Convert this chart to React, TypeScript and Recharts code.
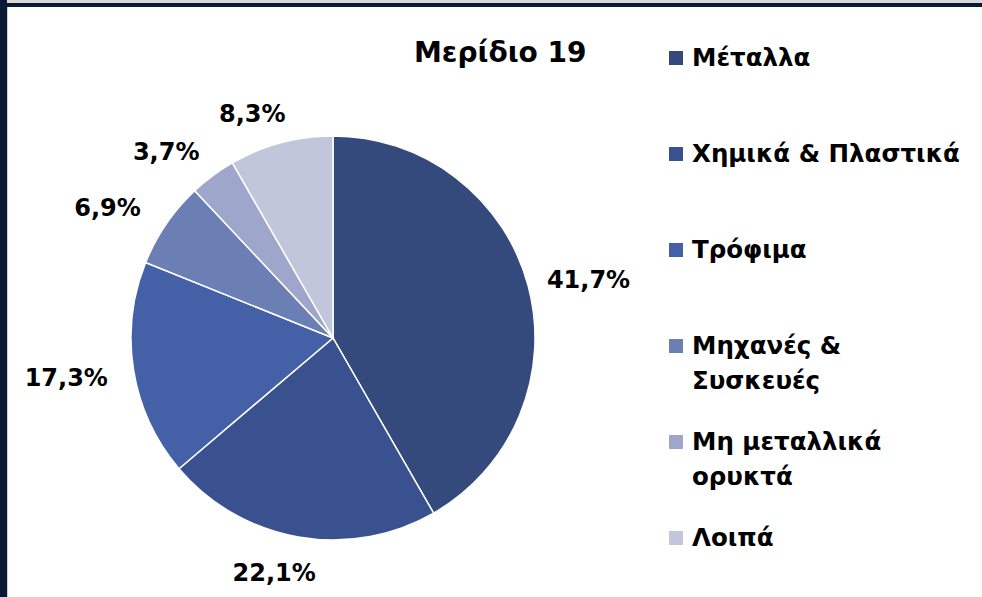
import { PieChart, Pie, Cell, Legend } from "recharts";

const categories = ["Μέταλλα", "Χημικά & Πλαστικά", "Τρόφιμα", "Μηχανές & Συσκευές", "Μη μεταλλικά ορυκτά", "Λοιπά"];
const legendLines = [["Μέταλλα"], ["Χημικά & Πλαστικά"], ["Τρόφιμα"], ["Μηχανές &", "Συσκευές"], ["Μη μεταλλικά", "ορυκτά"], ["Λοιπά"]];
const shares = [41.7, 22.1, 17.3, 6.9, 3.7, 8.3];
const colors = ["#34497c", "#3a5190", "#4460a6", "#6b7fb5", "#9ea7cb", "#c1c6db"];

const data = categories.map((name, i) => ({ name, value: shares[i] }));

const FONT = "'DejaVu Sans', sans-serif";
const RADIAN = Math.PI / 180;

// labels sit outside the pie, a bit further out on the right like Excel does
const renderLabel = (props: any) => {
  const { cx, cy, midAngle, outerRadius, value } = props;
  const cos = Math.cos(-midAngle * RADIAN);
  const sin = Math.sin(-midAngle * RADIAN);
  const ax = cos > 0 ? 78 : 53;
  const x = cx - 15 + (outerRadius + ax) * cos;
  const y = cy + 3 + (outerRadius + 33) * sin;
  return (
    <text x={x} y={y} textAnchor="middle" dominantBaseline="central" fill="#000" fontSize={24} fontWeight="bold" fontFamily={FONT}>
      {value.toFixed(1).replace(".", ",")}%
    </text>
  );
};

const renderLegend = () => (
  <div style={{ fontFamily: FONT, fontWeight: "bold", fontSize: 24.5, color: "#000" }}>
    {legendLines.map((lines, i) => (
      <div key={i} style={{ height: 96, display: "flex", alignItems: "flex-start" }}>
        <div style={{ width: 14, height: 14, background: colors[i], marginTop: 11, marginRight: 9, flexShrink: 0 }} />
        <div style={{ lineHeight: "35px" }}>
          {lines.map((l, j) => (
            <div key={j}>{l}</div>
          ))}
        </div>
      </div>
    ))}
  </div>
);

export default function App() {
  return (
    <div style={{ position: "absolute", left: 0, top: 0, width: 982, height: 597, background: "#fff", overflow: "hidden" }}>
      <div style={{ position: "absolute", left: 0, top: 0, width: 982, height: 3, background: "#d9d9d9" }} />
      <div style={{ position: "absolute", left: 0, top: 3, width: 982, height: 4, background: "#0b1a33" }} />
      <div style={{ position: "absolute", left: 0, top: 0, width: 7, height: 597, background: "#0b1a33" }} />
      <div style={{ position: "absolute", left: 7, top: 7, width: 1, height: 590, background: "#d0d0d0" }} />
      <div
        style={{
          position: "absolute",
          left: 414,
          top: 36,
          fontFamily: FONT,
          fontWeight: "bold",
          fontSize: 28,
          color: "#000",
        }}
      >
        Μερίδιο 19
      </div>
      <div style={{ position: "absolute", left: 0, top: 0 }}>
        <PieChart width={982} height={597} margin={{ top: 0, right: 0, bottom: 0, left: 0 }}>
          <Pie
            data={data}
            dataKey="value"
            nameKey="name"
            cx={333}
            cy={338}
            outerRadius={202}
            startAngle={90}
            endAngle={-270}
            stroke="#fff"
            strokeWidth={1.5}
            label={renderLabel}
            labelLine={false}
            isAnimationActive={false}
          >
            {data.map((d, i) => (
              <Cell key={d.name} fill={colors[i]} />
            ))}
          </Pie>
          <Legend
            layout="vertical"
            align="right"
            verticalAlign="top"
            content={renderLegend}
            wrapperStyle={{ position: "absolute", left: 669, top: 40, width: 310 }}
          />
        </PieChart>
      </div>
    </div>
  );
}
